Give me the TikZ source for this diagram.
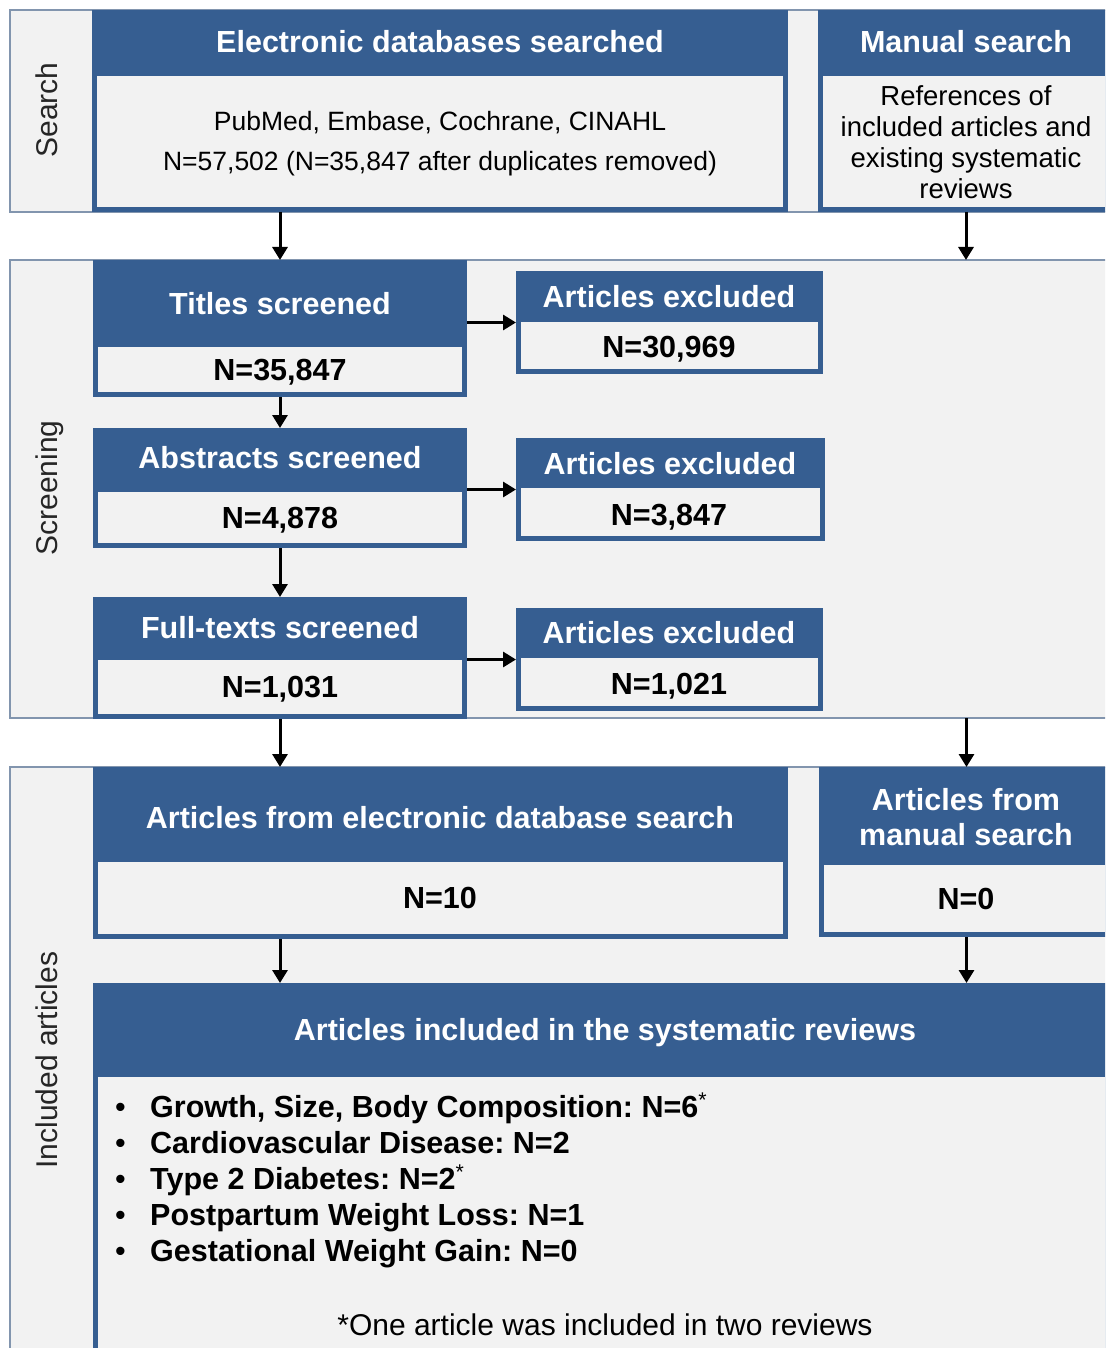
\documentclass[tikz,border=0pt]{standalone}
\usepackage{fontspec}
\setmainfont{Liberation Sans}
\usetikzlibrary{arrows.meta}
\frenchspacing
\definecolor{hdrblue}{HTML}{365E91}
\definecolor{lightfill}{HTML}{F2F2F2}
\definecolor{bandline}{HTML}{8295AE}
\tikzset{
  band/.style={fill=lightfill, draw=bandline, line width=1.5pt, inner sep=0pt, outer sep=0pt},
  bluebox/.style={fill=hdrblue, draw=none, inner sep=0pt, outer sep=0pt},
  bodybox/.style={fill=lightfill, draw=none, inner sep=0pt, outer sep=0pt},
  hdr/.style={text=white, font=\fontsize{30.5}{34}\selectfont\bfseries, inner sep=0pt, text height=22pt, text depth=0pt},
  num/.style={text=black, font=\fontsize{30.5}{34}\selectfont\bfseries, inner sep=0pt, text height=22pt, text depth=0pt},
  item/.style={num, anchor=west},
  plain/.style={text=black, font=\fontsize{26.5}{30}\selectfont, inner sep=0pt, text height=19pt, text depth=0pt},
  refs/.style={text=black, font=\fontsize{27.5}{31}\selectfont, inner sep=0pt, text height=20pt, text depth=0pt},
  foot/.style={text=black, font=\fontsize{30}{34}\selectfont, inner sep=0pt, text height=21.5pt, text depth=0pt},
  side/.style={text=black!85, font=\fontsize{30}{34}\selectfont, rotate=90, inner sep=0pt, text height=21.5pt, text depth=0pt},
  arr/.style={line width=3pt, -{Triangle[width=15pt,length=13pt]}},
}
% #1 name, #2 x1, #3 y1, #4 x2, #5 y2
\newcommand\mkband[5]{%
  \node[band, minimum width={#4-#2}, minimum height={#5-#3}] (#1) at ({(#2+#4)/2},{(#3+#5)/2}) {};}
% #1 name, #2 x1, #3 y1, #4 x2, #5 y2, #6 header bottom
\newcommand\mkbox[6]{%
  \node[bluebox, minimum width={#4-#2}, minimum height={#5-#3}] (#1) at ({(#2+#4)/2},{(#3+#5)/2}) {};
  \node[bodybox, minimum width={#4-#2-10}, minimum height={#5-5-#6}] (#1-body) at ({(#2+#4)/2},{(#6+#5-5)/2}) {};}
\begin{document}
\begin{tikzpicture}[x=1pt,y=-1pt]
\useasboundingbox (0,0) rectangle (1105,1348);
\clip (0,0) rectangle (1105,1348);
\fill[white] (0,0) rectangle (1105,1348);

% bands
\mkband{searchband}{10}{10}{1125}{212}
\mkband{screenband}{10}{260}{1125}{718}
\mkband{inclband}{10}{767}{1125}{1365}

\node[side] (lsearch) at (47,110) {Search};
\node[side] (lscreen) at (47,488) {Screening};
\node[side] (lincl) at (47,1060) {Included articles};

% search boxes
\mkbox{elec}{92}{10}{788}{212}{76}
\mkbox{manual}{818}{10}{1114}{212}{76}
\node[hdr] (elecH) at (440,42) {Electronic databases searched};
\node[plain] (elecL1) at (440,121) {PubMed, Embase, Cochrane, CINAHL};
\node[plain] (elecL2) at (440,161) {N=57,502 (N=35,847 after duplicates removed)};
\node[hdr] (manualH) at (966,42) {Manual search};
\node[refs] (manL1) at (966,96) {References of};
\node[refs] (manL2) at (966,127) {included articles and};
\node[refs] (manL3) at (966,158) {existing systematic};
\node[refs] (manL4) at (966,189) {reviews};

% screening boxes
\mkbox{titles}{93}{260}{467}{397}{347}
\mkbox{abstracts}{93}{428}{467}{548}{492}
\mkbox{fulltexts}{93}{597}{467}{719}{660}
\mkbox{excl1}{516}{271}{823}{374}{322}
\mkbox{excl2}{516}{438}{825}{541}{488}
\mkbox{excl3}{516}{608}{823}{711}{658}
\node[hdr] (titlesH) at (280,303) {Titles screened};
\node[num] (titlesN) at (280,369) {N=35,847};
\node[hdr] (abstractsH) at (280,457) {Abstracts screened};
\node[num] (abstractsN) at (280,517) {N=4,878};
\node[hdr] (fulltextsH) at (280,627) {Full-texts screened};
\node[num] (fulltextsN) at (280,686) {N=1,031};
\node[hdr] (excl1H) at (669,296) {Articles excluded};
\node[num] (excl1N) at (669,346) {N=30,969};
\node[hdr] (excl2H) at (670,463) {Articles excluded};
\node[num] (excl2N) at (669,514) {N=3,847};
\node[hdr] (excl3H) at (669,632) {Articles excluded};
\node[num] (excl3N) at (669,683) {N=1,021};

% included boxes
\mkbox{elecart}{93}{767}{788}{939}{862}
\mkbox{manart}{819}{767}{1114}{937}{865}
\mkbox{incl}{93}{983}{1117}{1365}{1077}
\node[hdr] (elecartH) at (440,817) {Articles from electronic database search};
\node[num] (elecartN) at (440,897) {N=10};
\node[hdr] (manartH1) at (966,799) {Articles from};
\node[hdr] (manartH2) at (966,834) {manual search};
\node[num] (manartN) at (966,898) {N=0};
\node[hdr] (inclH) at (605,1029) {Articles included in the systematic reviews};
\node[item] (b1) at (115,1106) {\makebox[35pt][l]{\mdseries\textbullet}Growth, Size, Body Composition: N=6\textsuperscript{\mdseries*}};
\node[item] (b2) at (115,1142) {\makebox[35pt][l]{\mdseries\textbullet}Cardiovascular Disease: N=2};
\node[item] (b3) at (115,1178) {\makebox[35pt][l]{\mdseries\textbullet}Type 2 Diabetes: N=2\textsuperscript{\mdseries*}};
\node[item] (b4) at (115,1214) {\makebox[35pt][l]{\mdseries\textbullet}Postpartum Weight Loss: N=1};
\node[item] (b5) at (115,1250) {\makebox[35pt][l]{\mdseries\textbullet}Gestational Weight Gain: N=0};
\node[foot] (footnote) at (605,1325) {*One article was included in two reviews};

% arrows
\draw[arr] (titles.north |- searchband.south) -- (titles.north);
\draw[arr] (manual.south) -- (manual.south |- screenband.north);
\draw[arr] (titles.south) -- (abstracts.north);
\draw[arr] (abstracts.south) -- (fulltexts.north);
\draw[arr] (titles.east |- excl1.west) -- (excl1.west);
\draw[arr] (abstracts.east |- excl2.west) -- (excl2.west);
\draw[arr] (fulltexts.east |- excl3.west) -- (excl3.west);
\draw[arr] (fulltexts.south) -- (fulltexts.south |- elecart.north);
\draw[arr] (manart.north |- screenband.south) -- (manart.north);
\draw[arr] (fulltexts.south |- elecart.south) -- (fulltexts.south |- incl.north);
\draw[arr] (manart.south) -- (manart.south |- incl.north);
\end{tikzpicture}
\end{document}
